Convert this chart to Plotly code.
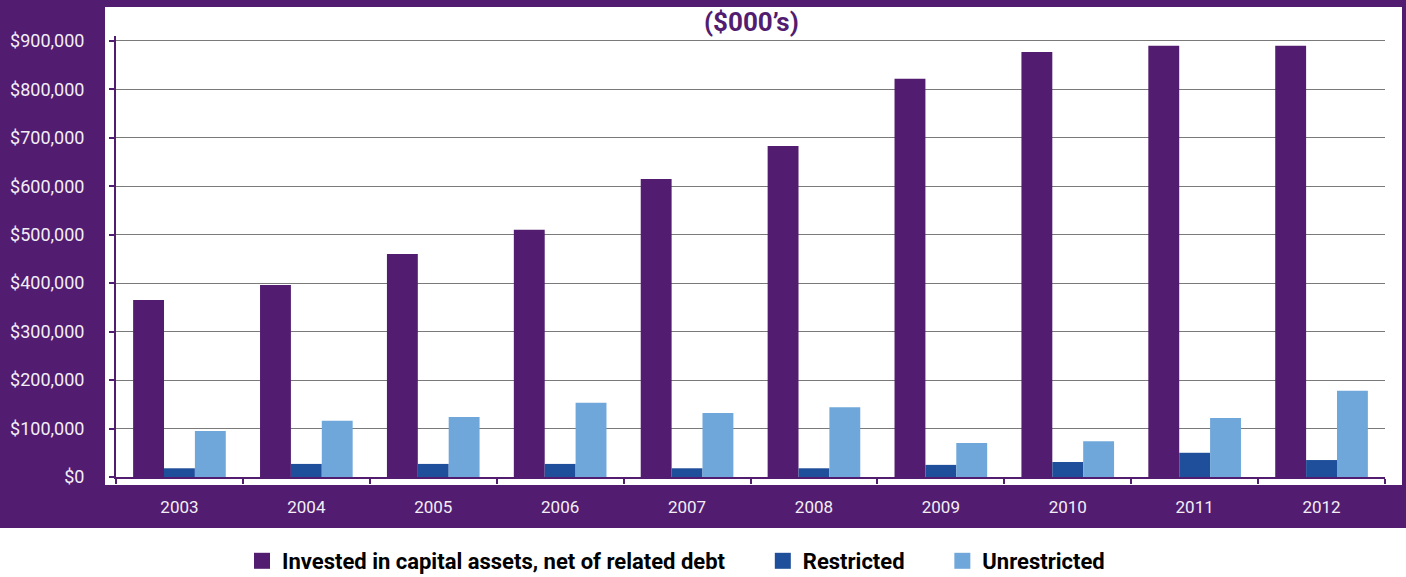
import plotly.graph_objects as go

years = ["2003", "2004", "2005", "2006", "2007", "2008", "2009", "2010", "2011", "2012"]
invested = [365000, 396000, 460000, 510000, 615000, 683000, 822000, 877000, 890000, 890000]
restricted = [18000, 27000, 27000, 27000, 18000, 18000, 25000, 31000, 50000, 35000]
unrestricted = [95000, 116000, 124000, 153000, 132000, 144000, 70000, 74000, 122000, 178000]
series_names = ["Invested in capital assets, net of related debt", "Restricted", "Unrestricted"]
colors = ["#521c70", "#1f4f9a", "#6fa7da"]
y_ticks = [0, 100000, 200000, 300000, 400000, 500000, 600000, 700000, 800000, 900000]
y_tick_text = ["$0", "$100,000", "$200,000", "$300,000", "$400,000", "$500,000",
               "$600,000", "$700,000", "$800,000", "$900,000"]

PURPLE = "#521c70"
NB = "\u00a0"
pads = [NB * 6, NB * 6, ""]

fig = go.Figure()
for name, vals, col, pad in zip(series_names, [invested, restricted, unrestricted], colors, pads):
    fig.add_trace(go.Bar(x=years, y=vals, name=name, marker=dict(color=col, line=dict(width=0)),
                         showlegend=False))
    fig.add_trace(go.Scatter(x=[None], y=[None], mode="markers", name="<b>" + name + "</b>" + pad,
                             marker=dict(symbol="square", size=17, color=col)))

W, H = 1406, 577
ml, mr, mt, mb = 116, 21, 36, 100
pw, ph = W - ml - mr, H - mt - mb

def px_x(p):
    return (p - ml) / pw

def px_y(p):
    return (H - mb - p) / ph

shapes = [
    dict(type="rect", xref="paper", yref="paper", x0=px_x(0), x1=px_x(W), y0=px_y(528), y1=px_y(0),
         fillcolor=PURPLE, line=dict(width=0), layer="below"),
    dict(type="rect", xref="paper", yref="paper", x0=px_x(105), x1=px_x(1402), y0=px_y(485), y1=px_y(7),
         fillcolor="white", line=dict(width=0), layer="below"),
]

fig.update_layout(
    width=W, height=H,
    margin=dict(l=ml, r=mr, t=mt, b=mb, autoexpand=False),
    paper_bgcolor="white",
    plot_bgcolor="rgba(0,0,0,0)",
    barmode="group",
    bargap=0.27,
    bargroupgap=0,
    shapes=shapes,
    font=dict(family="Roboto", color="white"),
    annotations=[dict(text="<b>($000’s)</b>", xref="paper", yref="paper", x=px_x(752), y=px_y(22),
                      showarrow=False, font=dict(family="Roboto", size=26, color=PURPLE),
                      xanchor="center", yanchor="middle")],
    legend=dict(orientation="h", x=px_x(676), y=px_y(540), xanchor="center", yanchor="top",
                font=dict(family="Roboto", size=22, color="black"), itemsizing="trace",
                bgcolor="rgba(0,0,0,0)", traceorder="normal", itemwidth=30),
    yaxis=dict(range=[0, 910000], tickvals=y_ticks, ticktext=y_tick_text,
               showgrid=True, gridcolor="#7a7a7a", gridwidth=1,
               showline=True, linecolor=PURPLE, linewidth=2,
               ticks="outside", ticklen=5, tickcolor=PURPLE, tickwidth=2,
               tickfont=dict(family="Roboto", size=18, color="#f3eef6"),
               ticklabelstandoff=21, zeroline=False, automargin=False),
    xaxis=dict(showline=True, linecolor=PURPLE, linewidth=2,
               ticks="outside", tickson="boundaries", ticklen=5, tickcolor=PURPLE, tickwidth=2,
               tickfont=dict(family="Roboto", size=17, color="#f3eef6"),
               ticklabelstandoff=14, showgrid=False, automargin=False),
)

post = """
document.body.style.margin='0';
document.body.style.overflow='hidden';
"""
fig.write_html("out.html", config={"displayModeBar": False}, post_script=post)
